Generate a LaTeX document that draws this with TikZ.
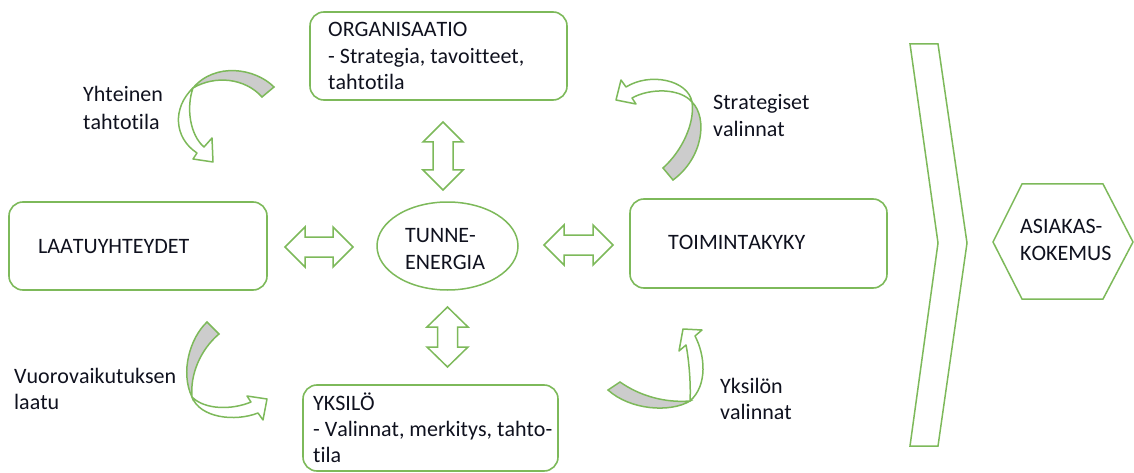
\documentclass[tikz,border=0pt]{standalone}
\usepackage{fontspec}
\setmainfont{Carlito}[Ligatures={NoCommon},Kerning=Off]
\usetikzlibrary{shapes.geometric}
\definecolor{grn}{RGB}{125,185,90}
\definecolor{bandgray}{RGB}{204,204,204}
\definecolor{txt}{RGB}{15,17,30}
\begin{document}
\begin{tikzpicture}[x=1pt,y=-1pt,
  box/.style={draw=grn,line width=1.6pt,rounded corners=14pt,inner sep=0pt},
  shp/.style={draw=grn,line width=1.5pt,fill=white,line join=miter},
  band/.style={draw=grn,line width=1.5pt,fill=bandgray},
  lbl/.style={anchor=base west,inner sep=0pt,text=txt,font=\fontsize{22}{26}\selectfont}]
\useasboundingbox (0,0) rectangle (1134,473);

% boxes
\node[box,minimum width=257pt,minimum height=88pt] (org) at (438.5,56) {};
\node[box,minimum width=255pt,minimum height=86pt] (yks) at (430.5,428) {};
\node[box,minimum width=258pt,minimum height=88pt] (laa) at (138,246) {};
\node[box,minimum width=257pt,minimum height=89pt] (toi) at (758.5,243.5) {};
\node[draw=grn,line width=1.5pt,ellipse,minimum width=141pt,minimum height=88pt,inner sep=0pt] (tun) at (447.5,246) {};

% box texts
\node[lbl] (orgA) at (328,37) {ORGANISAATIO};
\node[lbl] (orgB) at (328,64) {- Strategia, tavoitteet,};
\node[lbl] (orgC) at (328,90) {tahtotila};
\node[lbl] (yksA) at (313,410) {YKSILÖ};
\node[lbl] (yksB) at (313,436) {- Valinnat, merkitys, tahto-};
\node[lbl] (yksC) at (313,462) {tila};
\node[lbl] (laaA) at (38,253) {LAATUYHTEYDET};
\node[lbl] (toiA) at (668,249) {TOIMINTAKYKY};
\node[lbl] (tunA) at (405,242) {TUNNE-};
\node[lbl] (tunB) at (405,269) {ENERGIA};

% side labels
\node[lbl] (l1a) at (83,102) {Yhteinen};
\node[lbl] (l1b) at (83,130) {tahtotila};
\node[lbl] (l2a) at (713,110) {Strategiset};
\node[lbl] (l2b) at (713,137) {valinnat};
\node[lbl] (l3a) at (14,383) {Vuorovaikutuksen};
\node[lbl] (l3b) at (14,409) {laatu};
\node[lbl] (l4a) at (720,393) {Yksilön};
\node[lbl] (l4b) at (720,419) {valinnat};

% double arrows
\draw[shp] (285,247) -- (305,227) -- (305,237) -- (333,237) -- (333,227) -- (353,247) -- (333,267) -- (333,257) -- (305,257) -- (305,267) -- cycle;
\draw[shp] (544,245) -- (564,225) -- (564,235) -- (593,235) -- (593,225) -- (613,245) -- (593,265) -- (593,255) -- (564,255) -- (564,265) -- cycle;
\draw[shp] (443,122) -- (463,142) -- (453,142) -- (453,170) -- (463,170) -- (443,190) -- (423,170) -- (433,170) -- (433,142) -- (423,142) -- cycle;
\draw[shp] (447.5,307) -- (468,327) -- (457.5,327) -- (457.5,347) -- (468,347) -- (447.5,367) -- (427,347) -- (437.5,347) -- (437.5,327) -- (427,327) -- cycle;

% curved arrows: top left
\draw[band] (274,87) .. controls (255,68) and (215,62) .. (193,88) .. controls (215,75) and (245,78) .. (262,97) -- cycle;
\draw[shp,line join=round] (193,88) .. controls (172,108) and (174,138) .. (197,153) -- (193,159) -- (213,162) -- (212,138) -- (204,147) .. controls (190,135) and (186,108) .. (193,88) -- cycle;
% top right
\draw[band] (663,168) .. controls (683,150) and (695,122) .. (692,102) .. controls (708,118) and (703,158) .. (673,180) -- cycle;
\draw[shp,line join=round] (692,102) .. controls (688,80) and (650,72) .. (626,87) -- (621,80) -- (616,100) -- (636,104) -- (632,98) .. controls (650,88) and (680,88) .. (692,102) -- cycle;
% bottom left
\draw[band] (207,322) .. controls (190,338) and (180,372) .. (192,397) .. controls (190,375) and (200,350) .. (219,334) -- cycle;
\draw[shp,line join=round] (192,397) .. controls (205,410) and (232,410) .. (251,402) -- (247,396) -- (267,399) -- (263,420) -- (258,413) .. controls (235,422) and (200,418) .. (192,397) -- cycle;
% bottom right
\draw[band] (620,382) .. controls (640,396) and (665,403) .. (690,401) .. controls (670,413) and (630,410) .. (608,390) -- cycle;
\draw[shp,line join=round] (690,401) .. controls (691,385) and (689,360) .. (686,345) -- (679,351) -- (683,329) -- (702,330) -- (695,336) .. controls (705,355) and (708,385) .. (690,401) -- cycle;

% chevron and hexagon
\draw[shp] (910,44) -- (938,44) -- (967,243) -- (938,446) -- (910,446) -- (938,243) -- cycle;
\draw[shp] (993,242) -- (1022,184) -- (1103,184) -- (1133,242) -- (1103,299) -- (1022,299) -- cycle;
\node[lbl] (hexA) at (1020,233) {ASIAKAS-};
\node[lbl] (hexB) at (1020,260) {KOKEMUS};
\end{tikzpicture}
\end{document}
